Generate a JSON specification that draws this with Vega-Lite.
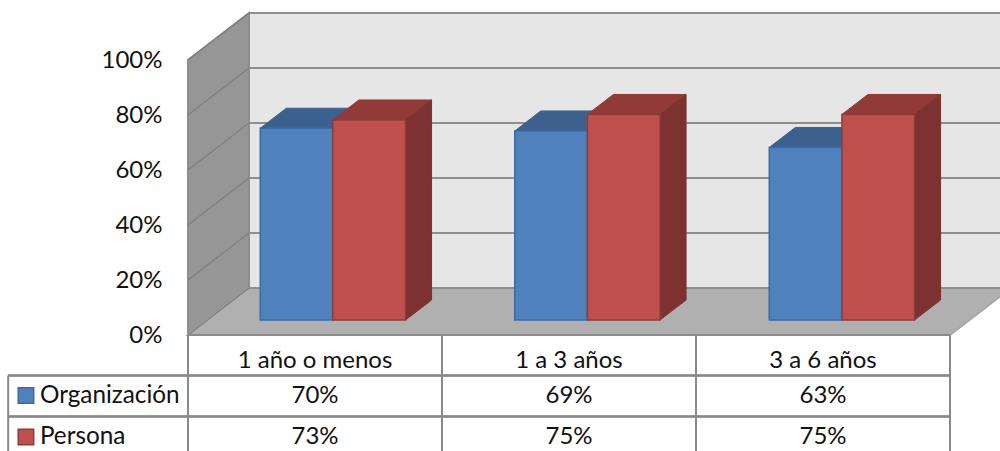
{
"$schema":"https://vega.github.io/schema/vega-lite/v6.json",
"width":1000,"height":451,"padding":0,"autosize":{"type":"none"},"background":"white",
"config":{"view":{"stroke":null},"font":"Lato"},
"datasets":{
"barras":[
{"periodo":"1 año o menos","serie":"Organización","valor":70},
{"periodo":"1 a 3 años","serie":"Organización","valor":69},
{"periodo":"3 a 6 años","serie":"Organización","valor":63},
{"periodo":"1 año o menos","serie":"Persona","valor":73},
{"periodo":"1 a 3 años","serie":"Persona","valor":75},
{"periodo":"3 a 6 años","serie":"Persona","valor":75}],
"marcas":[{"pct":0},{"pct":20},{"pct":40},{"pct":60},{"pct":80},{"pct":100}],
"marco":[
{"cara":"fondo","esq":0,"cat":0,"prof":1,"pct":0},{"cara":"fondo","esq":1,"cat":3,"prof":1,"pct":0},{"cara":"fondo","esq":2,"cat":3,"prof":1,"pct":100},{"cara":"fondo","esq":3,"cat":0,"prof":1,"pct":100},
{"cara":"izquierda","esq":0,"cat":0,"prof":0,"pct":0},{"cara":"izquierda","esq":1,"cat":0,"prof":1,"pct":0},{"cara":"izquierda","esq":2,"cat":0,"prof":1,"pct":100},{"cara":"izquierda","esq":3,"cat":0,"prof":0,"pct":100},
{"cara":"suelo","esq":0,"cat":0,"prof":0,"pct":0},{"cara":"suelo","esq":1,"cat":3,"prof":0,"pct":0},{"cara":"suelo","esq":2,"cat":3,"prof":1,"pct":0},{"cara":"suelo","esq":3,"cat":0,"prof":1,"pct":0}]
},
"encoding":{
"x":{"field":"x","type":"quantitative","title":null,"axis":null,"scale":{"domain":[-0.7402,3.1969],"nice":false,"zero":false}},
"y":{"field":"y","type":"quantitative","title":null,"scale":{"domain":[-42.18,121.82],"nice":false,"zero":false},
"axis":{"values":[0,20,40,60,80,100],"labelExpr":"datum.value + '%'","domain":false,"ticks":false,"grid":false,"offset":-162,"labelPadding":0,"labelFontSize":24,"labelColor":"#111111","labelFont":"Lato"}}
},
"layer":[
{"data":{"name":"marco"},
"transform":[{"calculate":"datum.cat + datum.prof*0.24","as":"x"},{"calculate":"datum.pct + datum.prof*17.09","as":"y"}],
"mark":{"type":"line","clip":true,"strokeWidth":2,"interpolate":"linear-closed"},
"encoding":{"order":{"field":"esq","type":"quantitative"},"detail":{"field":"cara"},
"fill":{"field":"cara","type":"nominal","legend":null,"scale":{"domain":["fondo","izquierda","suelo","Organización arriba","Organización lado","Organización frente","Persona arriba","Persona lado","Persona frente"],"range":["#e6e6e6","#969696","#b0b0b0","#3d618f","#3d618f","#4f81bd","#913a38","#7d3130","#c0504d"]}},
"stroke":{"field":"cara","type":"nominal","legend":null,"scale":{"domain":["fondo","izquierda","suelo","Organización arriba","Organización lado","Organización frente","Persona arriba","Persona lado","Persona frente"],"range":["#8e8e8e","#8e8e8e","#a8a8a8","#3d618f","#3d618f","#3a6ba5","#913a38","#7d3130","#8e3c3a"]}}}},
{"data":{"name":"marcas"},
"transform":[{"calculate":"0.24","as":"x"},{"calculate":"3.3","as":"x2"},{"calculate":"datum.pct + 17.09","as":"y"}],
"mark":{"type":"rule","clip":true,"stroke":"#8e8e8e","strokeWidth":2},"encoding":{"x2":{"field":"x2"}}},
{"data":{"name":"marcas"},
"transform":[{"calculate":"0","as":"x"},{"calculate":"0.24","as":"x2"},{"calculate":"datum.pct","as":"y"},{"calculate":"datum.pct + 17.09","as":"y2"}],
"mark":{"type":"rule","stroke":"#7f7f7f","strokeWidth":1.2},"encoding":{"x2":{"field":"x2"},"y2":{"field":"y2"}}},
{"data":{"name":"barras"},
"transform":[
{"calculate":"indexof(['1 año o menos','1 a 3 años','3 a 6 años'], datum.periodo)","as":"i"},
{"calculate":"datum.serie == 'Organización' ? 0 : 1","as":"s"},
{"calculate":"datum.i*1.002 + 0.2845 + datum.s*0.286","as":"x0"},
{"calculate":"datum.x0 + 0.286","as":"x1"},
{"calculate":"5.45","as":"yb"},
{"calculate":"5.2 + datum.valor","as":"yt"}],
"layer":[
{"transform":[
{"calculate":"['arriba','lado']","as":"parte"},{"flatten":["parte"]},
{"calculate":"[0,1,2,3]","as":"esq"},{"flatten":["esq"]},
{"calculate":"datum.serie + ' ' + datum.parte","as":"cara"},
{"calculate":"datum.parte == 'arriba' ? [datum.x0, datum.x1, datum.x1 + 0.1024, datum.x0 + 0.1024][datum.esq] : [datum.x1, datum.x1 + 0.1024, datum.x1 + 0.1024, datum.x1][datum.esq]","as":"x"},
{"calculate":"datum.parte == 'arriba' ? [datum.yt, datum.yt, datum.yt + 7.27, datum.yt + 7.27][datum.esq] : [datum.yt, datum.yt + 7.27, datum.yb + 7.27, datum.yb][datum.esq]","as":"y"}],
"mark":{"type":"line","strokeWidth":1,"interpolate":"linear-closed"},
"encoding":{"order":{"field":"esq","type":"quantitative"},"detail":{"field":"periodo"},
"fill":{"field":"cara","type":"nominal","legend":null},"stroke":{"field":"cara","type":"nominal","legend":null}}},
{"transform":[{"calculate":"datum.x0","as":"x"},{"calculate":"datum.yb","as":"y"},{"calculate":"datum.serie + ' frente'","as":"cara"}],
"mark":{"type":"bar","strokeWidth":1.5},
"encoding":{"x2":{"field":"x1"},"y2":{"field":"yt"},"fill":{"field":"cara","type":"nominal","legend":null},"stroke":{"field":"cara","type":"nominal","legend":null}}},
{"transform":[{"filter":"datum.s == 0"},{"calculate":"[datum.i, datum.i + 1]","as":"x"},{"flatten":["x"]},{"calculate":"0","as":"y"},{"calculate":"-42.18","as":"y2"}],
"mark":{"type":"rule","stroke":"#8a8a8a","strokeWidth":2},"encoding":{"y2":{"field":"y2"}}},
{"transform":[{"calculate":"datum.i","as":"x"},{"calculate":"datum.i + 1","as":"x2"},{"calculate":"0","as":"y"}],
"mark":{"type":"rule","stroke":"#8a8a8a","strokeWidth":2},"encoding":{"x2":{"field":"x2"}}},
{"transform":[{"calculate":"-0.708","as":"x"},{"calculate":"3","as":"x2"},{"calculate":"-14.7 - datum.s*14.9","as":"y"}],
"mark":{"type":"rule","stroke":"#8a8a8a","strokeWidth":2},"encoding":{"x2":{"field":"x2"}}},
{"transform":[{"filter":"datum.s == 0 && datum.i == 0"},{"calculate":"-0.708","as":"x"},{"calculate":"-14.7","as":"y"},{"calculate":"-42.18","as":"y2"}],
"mark":{"type":"rule","stroke":"#8a8a8a","strokeWidth":2},"encoding":{"y2":{"field":"y2"}}},
{"transform":[{"filter":"datum.s == 0"},{"calculate":"datum.i + 0.5","as":"x"},{"calculate":"-9.6","as":"y"}],
"mark":{"type":"text","fontSize":24,"font":"Lato","color":"#111111","align":"center","baseline":"middle"},
"encoding":{"text":{"field":"periodo"}}},
{"transform":[{"calculate":"datum.i + 0.5","as":"x"},{"calculate":"-22 - datum.s*15.1","as":"y"},{"calculate":"datum.valor + '%'","as":"etiqueta"}],
"mark":{"type":"text","fontSize":24,"font":"Lato","color":"#111111","align":"center","baseline":"middle"},
"encoding":{"text":{"field":"etiqueta"}}},
{"transform":[{"filter":"datum.i == 0"},{"calculate":"-0.638","as":"x"},{"calculate":"-22 - datum.s*15.1","as":"y"},{"calculate":"datum.serie + ' frente'","as":"cara"}],
"mark":{"type":"point","shape":"square","filled":true,"size":240,"opacity":1,"strokeWidth":1.5},
"encoding":{"fill":{"field":"cara","type":"nominal","legend":null},"stroke":{"field":"cara","type":"nominal","legend":null}}},
{"transform":[{"filter":"datum.i == 0"},{"calculate":"-0.583","as":"x"},{"calculate":"-22 - datum.s*15.1","as":"y"}],
"mark":{"type":"text","fontSize":24.3,"font":"Lato","color":"#111111","align":"left","baseline":"middle"},
"encoding":{"text":{"field":"serie"}}}
]}
]}
